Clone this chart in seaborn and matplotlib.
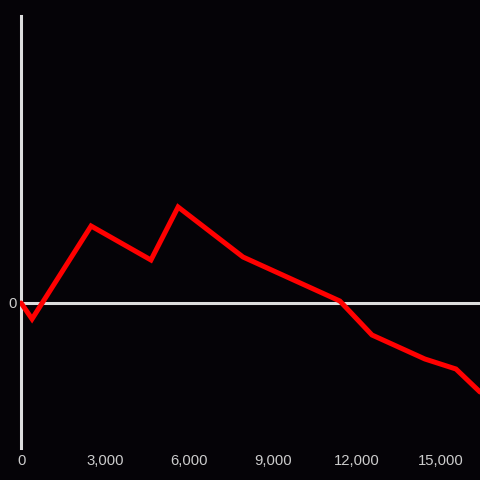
import matplotlib
matplotlib.use('Agg')
import matplotlib.pyplot as plt
import seaborn as sns
import pandas as pd
from matplotlib.ticker import FuncFormatter

# values
steps = [0, 390, 2500, 4640, 5610, 7930, 11390, 12540, 14430, 15540, 16400]
balance = [0, -160, 770, 430, 960, 460, 20, -320, -560, -660, -890]
x_ticks = [0, 3000, 6000, 9000, 12000, 15000]

df = pd.DataFrame({'step': steps, 'balance': balance})

bg = '#050307'
fg = '#dddddd'
txt = '#cccccc'

sns.set_style('dark')
plt.rcParams['font.family'] = ['Liberation Sans', 'DejaVu Sans']

fig = plt.figure(figsize=(4.8, 4.8), dpi=100, facecolor=bg)
ax = fig.add_axes([20 / 480, 32 / 480, 460 / 480, 432 / 480])
ax.set_facecolor(bg)

sns.lineplot(data=df, x='step', y='balance', ax=ax, color='#ff0000',
             linewidth=3.6, solid_joinstyle='miter', zorder=3)
ax.axhline(0, color=fg, linewidth=2.2, zorder=2)

ax.set_xlim(-40, 16400)
ax.set_ylim(-1450, 2870)
ax.set_xticks(x_ticks)
ax.xaxis.set_major_formatter(FuncFormatter(lambda v, p: f'{int(v):,}'))
ax.set_yticks([0])
ax.tick_params(axis='both', length=0, colors=txt, labelsize=10.7)
ax.tick_params(axis='x', pad=4)
ax.tick_params(axis='y', pad=3)
ax.set_xlabel('')
ax.set_ylabel('')
ax.grid(False)

for side in ['top', 'right', 'bottom']:
    ax.spines[side].set_visible(False)
ax.spines['left'].set_color(fg)
ax.spines['left'].set_linewidth(2.2)
ax.spines['left'].set_position(('data', 0))

fig.savefig('out.png', dpi=100, facecolor=bg)
